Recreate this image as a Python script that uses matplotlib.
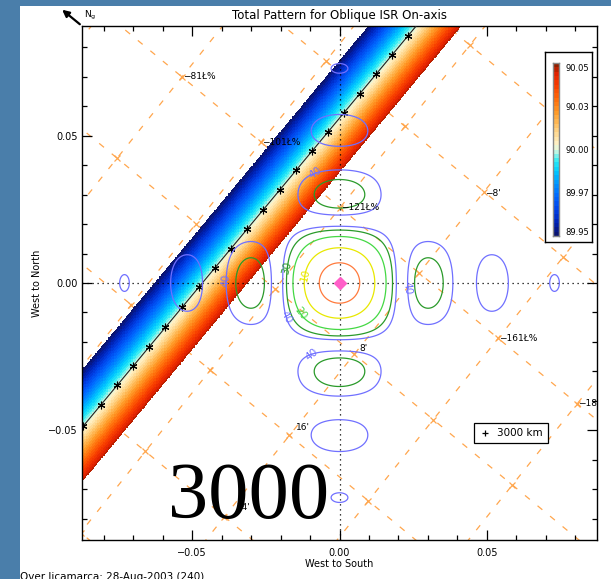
import numpy as np
import matplotlib
matplotlib.use("Agg")
import matplotlib.pyplot as plt
from matplotlib.colors import LinearSegmentedColormap, BoundaryNorm
from matplotlib.patches import Rectangle
from matplotlib.lines import Line2D

# ---------------- data ----------------
title = "Total Pattern for Oblique ISR On-axis"
xlabel = "West to South"
ylabel = "West to North"
footer = "Over Jicamarca: 28-Aug-2003 (240)"
big_label = "3000"
legend_label = "3000 km"
north_label = r"$\mathregular{N_g}$"

axis_lim = 0.0873
major_ticks = [-0.05, 0.0, 0.05]
major_tick_labels = ["\u22120.05", "0.00", "0.05"]
minor_ticks = [-0.08, -0.07, -0.06, -0.04, -0.03, -0.02, -0.01,
               0.01, 0.02, 0.03, 0.04, 0.06, 0.07, 0.08]

# antenna pattern (dB contours)
pattern_levels = [-40, -30, -20, -10, -3]
pattern_colors = ["#7070ff", "#2a9a2a", "#44d844", "#e8e800", "#ff7a3c"]
null_spacing = 0.021
pattern_exponent = 1.9
label_points = [(-0.0083, 0.0373), (-0.0381, 0.0009), (-0.0175, 0.0050),
                (-0.0114, 0.0026), (-0.0135, -0.0105), (-0.0180, -0.0115),
                (-0.0097, -0.0236), (0.0229, -0.0018)]

# perpendicularity band (deg)
track_slope = 1.204
track_intercept = 0.056
band_upper = 0.0197
band_lower = -0.0185
band_vmin, band_vmax = 89.95, 90.05
track_marker_x = [-0.0869, -0.0808, -0.0754, -0.0699, -0.0645, -0.0590, -0.0534,
                  -0.0476, -0.0422, -0.0368, -0.0313, -0.0259, -0.0203, -0.0147,
                  -0.0093, -0.0039, 0.0015, 0.0069, 0.0124, 0.0178, 0.0232]

cbar_ticks = [89.9525, 89.975, 90.0, 90.025, 90.0475]
cbar_labels = ["89.95", "89.97", "90.00", "90.03", "90.05"]
cmap_nodes = [0.0, 0.06, 0.14, 0.22, 0.30, 0.37, 0.43, 0.48, 0.52, 0.58, 0.65, 0.72,
              0.80, 0.88, 0.95, 1.0]
cmap_colors = ["#0a1470", "#0020b0", "#0040e8", "#0068ff", "#0098ff", "#00ccff", "#30ecf4",
               "#b0f8e8", "#fff6d0", "#ffe0a0", "#ffc060", "#ff9a28", "#ff6a08", "#f83c00",
               "#e02000", "#902000"]

# geomagnetic grid (orange dashed)
grid_origin = (-0.0534, 0.0700)
grid_step_a = (0.0268, -0.0222)
grid_step_b = (-0.0220, -0.0276)
grid_labels = {0: "\u221281\u0141%", 1: "\u2212101\u0141%", 2: "\u2212121\u0141%",
               4: "\u2212161\u0141%", 5: "\u2212181\u0141%"}
minute_labels = [("\u22128'", 0.0520, 0.0305), ("8'", 0.0080, -0.0222),
                 ("16'", -0.0124, -0.0492), ("24'", -0.0327, -0.0761)]
grid_color = "#ffa64d"

# ---------------- figure ----------------
W, H = 611, 579
fig = plt.figure(figsize=(W / 100, H / 100), dpi=100)
fig.patch.set_facecolor("#4a7eaa")
fig.patches.append(Rectangle((20 / W, 0), 1 - 20 / W, (H - 6) / H,
                             transform=fig.transFigure, facecolor="white",
                             edgecolor="none", zorder=-10))

ax = fig.add_axes([82 / W, (H - 540) / H, 515 / W, 514 / H])
L = axis_lim

# grid lines
o = np.array(grid_origin)
va_ = np.array(grid_step_a)
vb_ = np.array(grid_step_b)
tt = np.array([-12.0, 12.0])
for k in range(-8, 12):
    base = o + k * vb_
    ax.plot(base[0] + tt * va_[0], base[1] + tt * va_[1], color=grid_color,
            lw=0.9, dashes=(5, 8), zorder=1.2)
    base = o + k * va_
    ax.plot(base[0] + tt * vb_[0], base[1] + tt * vb_[1], color=grid_color,
            lw=0.9, dashes=(5, 8), zorder=1.2)
ii, jj = np.meshgrid(np.arange(-8, 12), np.arange(-8, 12))
ix = o[0] + ii * va_[0] + jj * vb_[0]
iy = o[1] + ii * va_[1] + jj * vb_[1]
ax.plot(ix.ravel(), iy.ravel(), "x", color=grid_color, ms=5, mew=0.9, zorder=1.3)

# band
n = 700
xs = np.linspace(-L, L, n)
X, Y = np.meshgrid(xs, xs)
d = Y - (track_intercept + track_slope * X)
val = 90.0 - (band_vmax - 90.0) * d / band_upper
val = np.ma.masked_where((d > band_upper) | (d < band_lower), val)
cmap = LinearSegmentedColormap.from_list("pp", list(zip(cmap_nodes, cmap_colors)), N=256)
bounds = np.linspace(band_vmin, band_vmax, 41)
norm = BoundaryNorm(bounds, cmap.N, clip=True)
ax.imshow(val, extent=(-L, L, -L, L), origin="lower", cmap=cmap, norm=norm,
          interpolation="nearest", aspect="auto", zorder=2)

# track line with markers
xl = np.array([-L, L])
ax.plot(xl, track_intercept + track_slope * xl, color="#202020", lw=0.8, zorder=3)
tmx = np.array(track_marker_x)
ax.plot(tmx, track_intercept + track_slope * tmx, linestyle="none",
        marker=(6, 2, 0), ms=5.5, mew=0.8, color="black", zorder=3.1)

# axis dotted lines
ax.axhline(0, color="black", lw=0.9, dashes=(1, 3), zorder=3)
ax.axvline(0, color="black", lw=0.9, dashes=(1, 3), zorder=3)

# pattern contours
F = np.abs(np.sinc(X / null_spacing) * np.sinc(Y / null_spacing))
P = 20 * pattern_exponent * np.log10(F + 1e-12)
cs = ax.contour(X, Y, P, levels=pattern_levels, colors=pattern_colors,
                linewidths=0.9, zorder=4)
ax.clabel(cs, levels=pattern_levels[:4], manual=label_points, inline=False,
          fontsize=7.5, fmt=lambda v: f"{-v:.0f}")
ax.plot([0], [0], marker="D", ms=6, color="#ff5fc8", mec="#ff5fc8", zorder=5)

# grid labels
for i, txt in grid_labels.items():
    p = o + i * va_
    ax.text(p[0] + 0.0004, p[1], txt, fontsize=6.5, ha="left", va="center",
            color="black", zorder=6, clip_on=True)
for txt, x0, y0 in minute_labels:
    ax.text(x0, y0, txt, fontsize=6.5, ha="center", va="center", color="black",
            zorder=6, clip_on=True)

# legend
h = Line2D([], [], linestyle="none", marker="+", color="black", ms=5, mew=0.9)
leg = ax.legend([h], [legend_label], loc="lower left", bbox_to_anchor=(0.761, 0.189),
                fontsize=7.5, frameon=True, fancybox=False, framealpha=1,
                edgecolor="black", borderpad=0.45, handlelength=1.2,
                handletextpad=0.6, borderaxespad=0)
leg.get_frame().set_linewidth(0.9)
leg.set_zorder(7)

# axes styling
ax.set_xlim(-L, L)
ax.set_ylim(-L, L)
ax.set_xticks(major_ticks)
ax.set_xticklabels(major_tick_labels)
ax.set_yticks(major_ticks)
ax.set_yticklabels(major_tick_labels)
ax.set_xticks(minor_ticks, minor=True)
ax.set_yticks(minor_ticks, minor=True)
ax.tick_params(which="both", direction="in", top=True, right=True, width=0.9,
               labelsize=7, colors="black")
ax.tick_params(which="major", length=7.2)
ax.tick_params(which="minor", length=3.8)
ax.tick_params(axis="x", pad=6)
ax.tick_params(axis="y", pad=3)
for s in ax.spines.values():
    s.set_linewidth(1.0)
ax.set_title(title, fontsize=8.5, pad=5)
ax.set_xlabel(xlabel, fontsize=7)
ax.xaxis.set_label_coords(0.5, -0.037)
ax.set_ylabel(ylabel, fontsize=7)
ax.yaxis.set_label_coords(-0.078, 0.5)

# north arrow
ax.annotate("", xy=(60 / W, 1 - 8 / H), xytext=(82 / W, 1 - 26 / H),
            xycoords="figure fraction", textcoords="figure fraction",
            arrowprops=dict(arrowstyle="-|>", lw=1.6, color="black", mutation_scale=10),
            annotation_clip=False)
fig.text(84 / W, 1 - 15 / H, north_label, fontsize=6.5, ha="left", va="center")

# big label and footer
fig.text(168 / W, (H - 518) / H, big_label, fontsize=58, family="Liberation Serif",
         ha="left", va="baseline", color="black")
fig.text(20 / W, (H - 572) / H, footer, fontsize=7.5, ha="left", va="top", color="black")

# colorbar
cf = fig.add_axes([545 / W, (H - 242) / H, 47 / W, 190 / H])
cf.set_xticks([])
cf.set_yticks([])
cf.set_facecolor("white")
for s in cf.spines.values():
    s.set_linewidth(1.0)
cb = fig.add_axes([553 / W, (H - 236) / H, 6 / W, 173 / H])
cvals = np.linspace(band_vmin, band_vmax, 400).reshape(-1, 1)
cb.imshow(cvals, extent=(0, 1, band_vmin, band_vmax), origin="lower", cmap=cmap,
          norm=norm, aspect="auto", interpolation="nearest")
cb.set_xticks([])
cb.yaxis.tick_right()
cb.set_yticks(cbar_ticks)
cb.set_yticklabels(cbar_labels)
cb.tick_params(axis="y", length=0, pad=4.5, labelsize=6)
for s in cb.spines.values():
    s.set_edgecolor("#888888")
    s.set_linewidth(1.0)

fig.savefig("out.png", dpi=100, facecolor=fig.get_facecolor())
